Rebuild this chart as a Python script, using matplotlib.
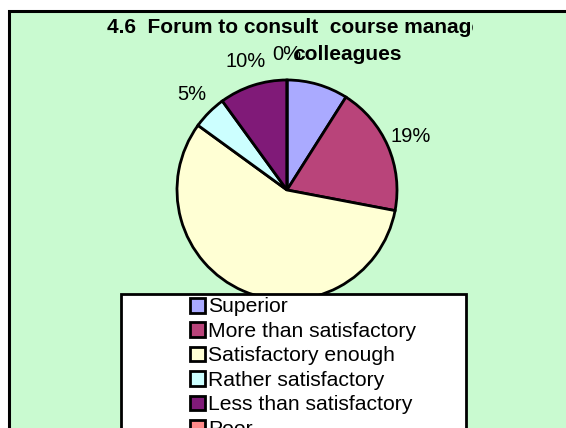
import matplotlib.pyplot as plt
from matplotlib.patches import Rectangle
from matplotlib.transforms import Bbox

plt.rcParams['font.family'] = ['Liberation Sans', 'DejaVu Sans']

# data (percent)
categories = ["Superior", "More than satisfactory", "Satisfactory enough",
              "Rather satisfactory", "Less than satisfactory", "Poor"]
values = [9, 19, 57, 5, 10, 0]
colors = ["#AAAAFF", "#B9447A", "#FFFFD4", "#CCFFFF", "#801A78", "#FF8A8A"]
# Superior's label is hidden behind the title in the original
labels = ["" if c == "Superior" else f"{v}%" for c, v in zip(categories, values)]

W, H = 566, 428
fig = plt.figure(figsize=(W / 100, H / 100), dpi=100)
fig.patch.set_facecolor("white")

# green chart area with black border (cut off right and bottom)
fig.patches.append(Rectangle((9 / W, -0.1), 1.2, 1 - 11 / H + 0.1,
                             transform=fig.transFigure, facecolor="#C9FAD0",
                             edgecolor="black", linewidth=2.2, zorder=0))

# pie axes, centred at (287, 190) px, radius 110 px
cx, cy, R = 287, 190, 110
span = 2.6
side = 2 * span * R
ax = fig.add_axes([(cx - side / 2) / W, (H - cy - side / 2) / H, side / W, side / H])
ax.set_zorder(1)

wedges, texts = ax.pie(values, labels=labels, colors=colors, startangle=90,
                       counterclock=False, labeldistance=1.23,
                       wedgeprops=dict(edgecolor="black", linewidth=2),
                       textprops=dict(fontsize=14.5, ha="center", va="center"))
ax.set_xlim(-span, span)
ax.set_ylim(-span, span)
ax.set_aspect("equal")
ax.axis("off")

# title, clipped like the original text box
t1 = fig.text(107 / W, 1 - 33 / H, "4.6  Forum to consult  course management and",
              fontsize=15, fontweight="bold", ha="left", va="baseline", zorder=2)
t1.set_clip_on(True)
t1.set_clip_box(Bbox.from_extents(0, 0, 473, H))
fig.text(347 / W, 1 - 60 / H, "colleagues", fontsize=15, fontweight="bold",
         ha="center", va="baseline", zorder=2)

# legend box (white, cut off at bottom)
fig.patches.append(Rectangle((121 / W, -0.1), 345 / W, 0.1 + 1 - 294 / H,
                             transform=fig.transFigure, facecolor="white",
                             edgecolor="black", linewidth=2, zorder=3))
leg = fig.legend(wedges, categories, loc="upper left",
                 bbox_to_anchor=(190 / W, 1 - 297.5 / H), frameon=False,
                 fontsize=15.2, handlelength=0.7, handleheight=0.7,
                 handletextpad=0.15, labelspacing=0.26, borderpad=0,
                 borderaxespad=0)
leg.set_zorder(4)

fig.savefig("out.png", dpi=100)
